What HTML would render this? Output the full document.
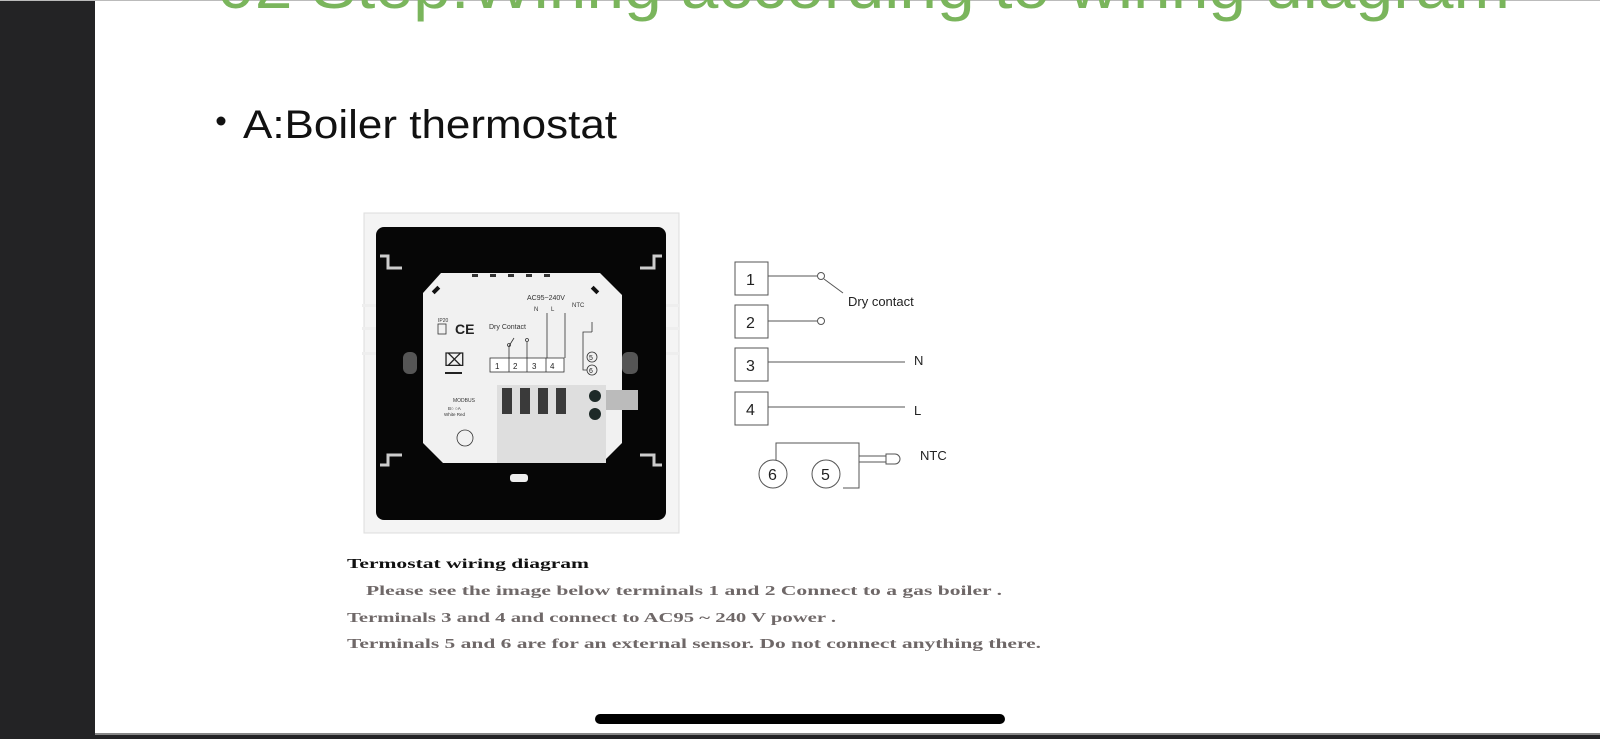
<!DOCTYPE html>
<html><head><meta charset="utf-8"><style>
html,body{margin:0;padding:0;width:1600px;height:739px;overflow:hidden;background:#fff;}
</style></head><body>
<svg width="1600" height="739" viewBox="0 0 1600 739" xmlns="http://www.w3.org/2000/svg" font-family="Liberation Sans, sans-serif">
<rect x="0" y="0" width="1600" height="739" fill="#fff"/>
<rect x="0" y="0" width="95" height="739" fill="#232325"/>
<rect x="0" y="0" width="1600" height="1" fill="#bbb"/>
<rect x="0" y="735" width="1600" height="4" fill="#232325"/>
<rect x="95" y="733" width="1505" height="2" fill="#888"/>
<!-- title -->
<text x="217" y="8" font-size="64" fill="#7ab55c" textLength="1293" lengthAdjust="spacingAndGlyphs">02 Step:Wiring according to wiring diagram</text>
<circle cx="221" cy="121" r="4.5" fill="#111"/>
<text x="243" y="138" font-size="40" fill="#111" textLength="374" lengthAdjust="spacingAndGlyphs">A:Boiler thermostat</text>

<!-- thermostat photo -->
<rect x="364" y="213" width="315" height="320" fill="#f4f4f4" stroke="#ddd"/>
<rect x="376" y="227" width="290" height="293" rx="8" fill="#060606"/>
<g fill="#eee">
<rect x="362" y="304" width="14" height="3"/><rect x="362" y="327" width="14" height="3"/><rect x="362" y="352" width="14" height="3"/>
<rect x="666" y="304" width="14" height="3"/><rect x="666" y="327" width="14" height="3"/><rect x="666" y="352" width="14" height="3"/>
</g>
<g fill="none" stroke="#ccc" stroke-width="3">
<path d="M380 256 h8 v12 h14"/><path d="M662 256 h-8 v12 h-14"/>
<path d="M380 465 h8 v-10 h14"/><path d="M662 465 h-8 v-10 h-14"/>
</g>
<rect x="403" y="352" width="14" height="22" rx="6" fill="#555"/>
<rect x="622" y="352" width="16" height="22" rx="6" fill="#555"/>
<polygon points="441,273 600,273 622,295 622,443 602,463 443,463 423,443 423,293" fill="#f1f1f1"/>
<polygon points="497,385 606,385 606,390 618,390 618,410 606,410 606,463 497,463" fill="#dedede"/>
<rect x="606" y="390" width="32" height="20" fill="#bbb"/>
<rect x="510" y="474" width="18" height="8" rx="3" fill="#eee"/>
<g fill="#333"><rect x="472" y="274" width="6" height="3"/><rect x="490" y="274" width="6" height="3"/><rect x="508" y="274" width="6" height="3"/><rect x="526" y="274" width="6" height="3"/><rect x="544" y="274" width="6" height="3"/></g>
<rect x="432" y="288" width="8" height="4" transform="rotate(-45 436 290)" fill="#111"/>
<rect x="591" y="288" width="8" height="4" transform="rotate(45 595 290)" fill="#111"/>
<text x="438" y="322" font-size="5" fill="#333">IP20</text>
<rect x="438" y="324" width="8" height="10" fill="none" stroke="#333" stroke-width="0.8"/>
<text x="455" y="334" font-size="14" font-weight="bold" fill="#222">CE</text>
<text x="444" y="366" font-size="18" fill="#222">⌧</text>
<rect x="445" y="372" width="17" height="2" fill="#222"/>
<text x="489" y="329" font-size="7" fill="#333">Dry Contact</text>
<text x="527" y="300" font-size="7" fill="#333">AC95~240V</text>
<text x="534" y="311" font-size="6" fill="#333">N</text><text x="551" y="311" font-size="6" fill="#333">L</text>
<text x="572" y="307" font-size="6" fill="#333">NTC</text>
<g stroke="#333" stroke-width="0.8" fill="none">
<line x1="509" y1="346" x2="509" y2="358"/><line x1="509" y1="346" x2="514" y2="338"/><circle cx="509" cy="345" r="1.5"/>
<line x1="527" y1="342" x2="527" y2="358"/><circle cx="527" cy="340" r="1.5"/>
<line x1="547" y1="313" x2="547" y2="358"/><line x1="565" y1="313" x2="565" y2="358"/>
<rect x="490" y="358" width="74" height="14" fill="#fff"/>
<line x1="509" y1="358" x2="509" y2="372"/><line x1="527" y1="358" x2="527" y2="372"/><line x1="546" y1="358" x2="546" y2="372"/>
<circle cx="592" cy="357" r="5"/><circle cx="592" cy="370" r="5"/>
<path d="M592 322 v10 M592 332 h-9 v38 h4"/>
<circle cx="465" cy="438" r="8"/>
</g>
<g font-size="8" fill="#222"><text x="495" y="369">1</text><text x="513" y="369">2</text><text x="532" y="369">3</text><text x="550" y="369">4</text><text x="589" y="360" font-size="7">5</text><text x="589" y="373" font-size="7">6</text></g>
<text x="453" y="402" font-size="5" fill="#333">MODBUS</text>
<text x="448" y="410" font-size="4.5" fill="#333">B○   ○A</text>
<text x="444" y="416" font-size="4.5" fill="#333">White   Red</text>
<g fill="#3a3a3a">
<rect x="502" y="388" width="10" height="26"/><rect x="520" y="388" width="10" height="26"/><rect x="538" y="388" width="10" height="26"/><rect x="556" y="388" width="10" height="26"/>
</g>
<circle cx="595" cy="396" r="6" fill="#1e2a28"/><circle cx="595" cy="414" r="6" fill="#1e2a28"/>

<!-- wiring diagram -->
<g stroke="#555" stroke-width="1" fill="#fff">
<rect x="735" y="262" width="33" height="33"/>
<rect x="735" y="305" width="33" height="33"/>
<rect x="735" y="348" width="33" height="33"/>
<rect x="735" y="392" width="33" height="33"/>
<line x1="768" y1="276" x2="817" y2="276"/><circle cx="821" cy="276" r="3.5"/><line x1="824" y1="279" x2="843" y2="293"/>
<line x1="768" y1="321" x2="817" y2="321"/><circle cx="821" cy="321" r="3.5"/>
<line x1="768" y1="362" x2="905" y2="362"/>
<line x1="768" y1="407" x2="905" y2="407"/>
<path d="M776 468 v-25 h83 v45 h-16" fill="none"/>
<circle cx="773" cy="474" r="14"/><circle cx="826" cy="474" r="14"/>
<line x1="859" y1="456" x2="887" y2="456"/><line x1="859" y1="462" x2="887" y2="462"/>
<path d="M886 454 h9 a5 5 0 0 1 0 10 h-9 z"/>
</g>
<g font-size="16" fill="#222">
<text x="746" y="285">1</text><text x="746" y="328">2</text><text x="746" y="371">3</text><text x="746" y="415">4</text>
<text x="768" y="480">6</text><text x="821" y="480">5</text>
</g>
<g font-size="13" fill="#222">
<text x="848" y="306">Dry contact</text><text x="914" y="365">N</text><text x="914" y="415">L</text><text x="920" y="460">NTC</text>
</g>

<!-- notes -->
<g font-family="Liberation Serif, serif" font-weight="bold">
<text x="347" y="568" font-size="14" fill="#111" textLength="242" lengthAdjust="spacingAndGlyphs">Termostat wiring diagram</text>
<text x="366" y="595" font-size="14" fill="#6f6868" textLength="636" lengthAdjust="spacingAndGlyphs">Please see the image below terminals 1 and 2 Connect to a gas boiler .</text>
<text x="347" y="622" font-size="14" fill="#6f6868" textLength="489" lengthAdjust="spacingAndGlyphs">Terminals 3 and 4 and connect to AC95 ~ 240 V power .</text>
<text x="347" y="648" font-size="14" fill="#6f6868" textLength="694" lengthAdjust="spacingAndGlyphs">Terminals 5 and 6 are for an external sensor. Do not connect anything there.</text>
</g>
<rect x="595" y="714" width="410" height="10" rx="5" fill="#000"/>
</svg>
</body></html>
